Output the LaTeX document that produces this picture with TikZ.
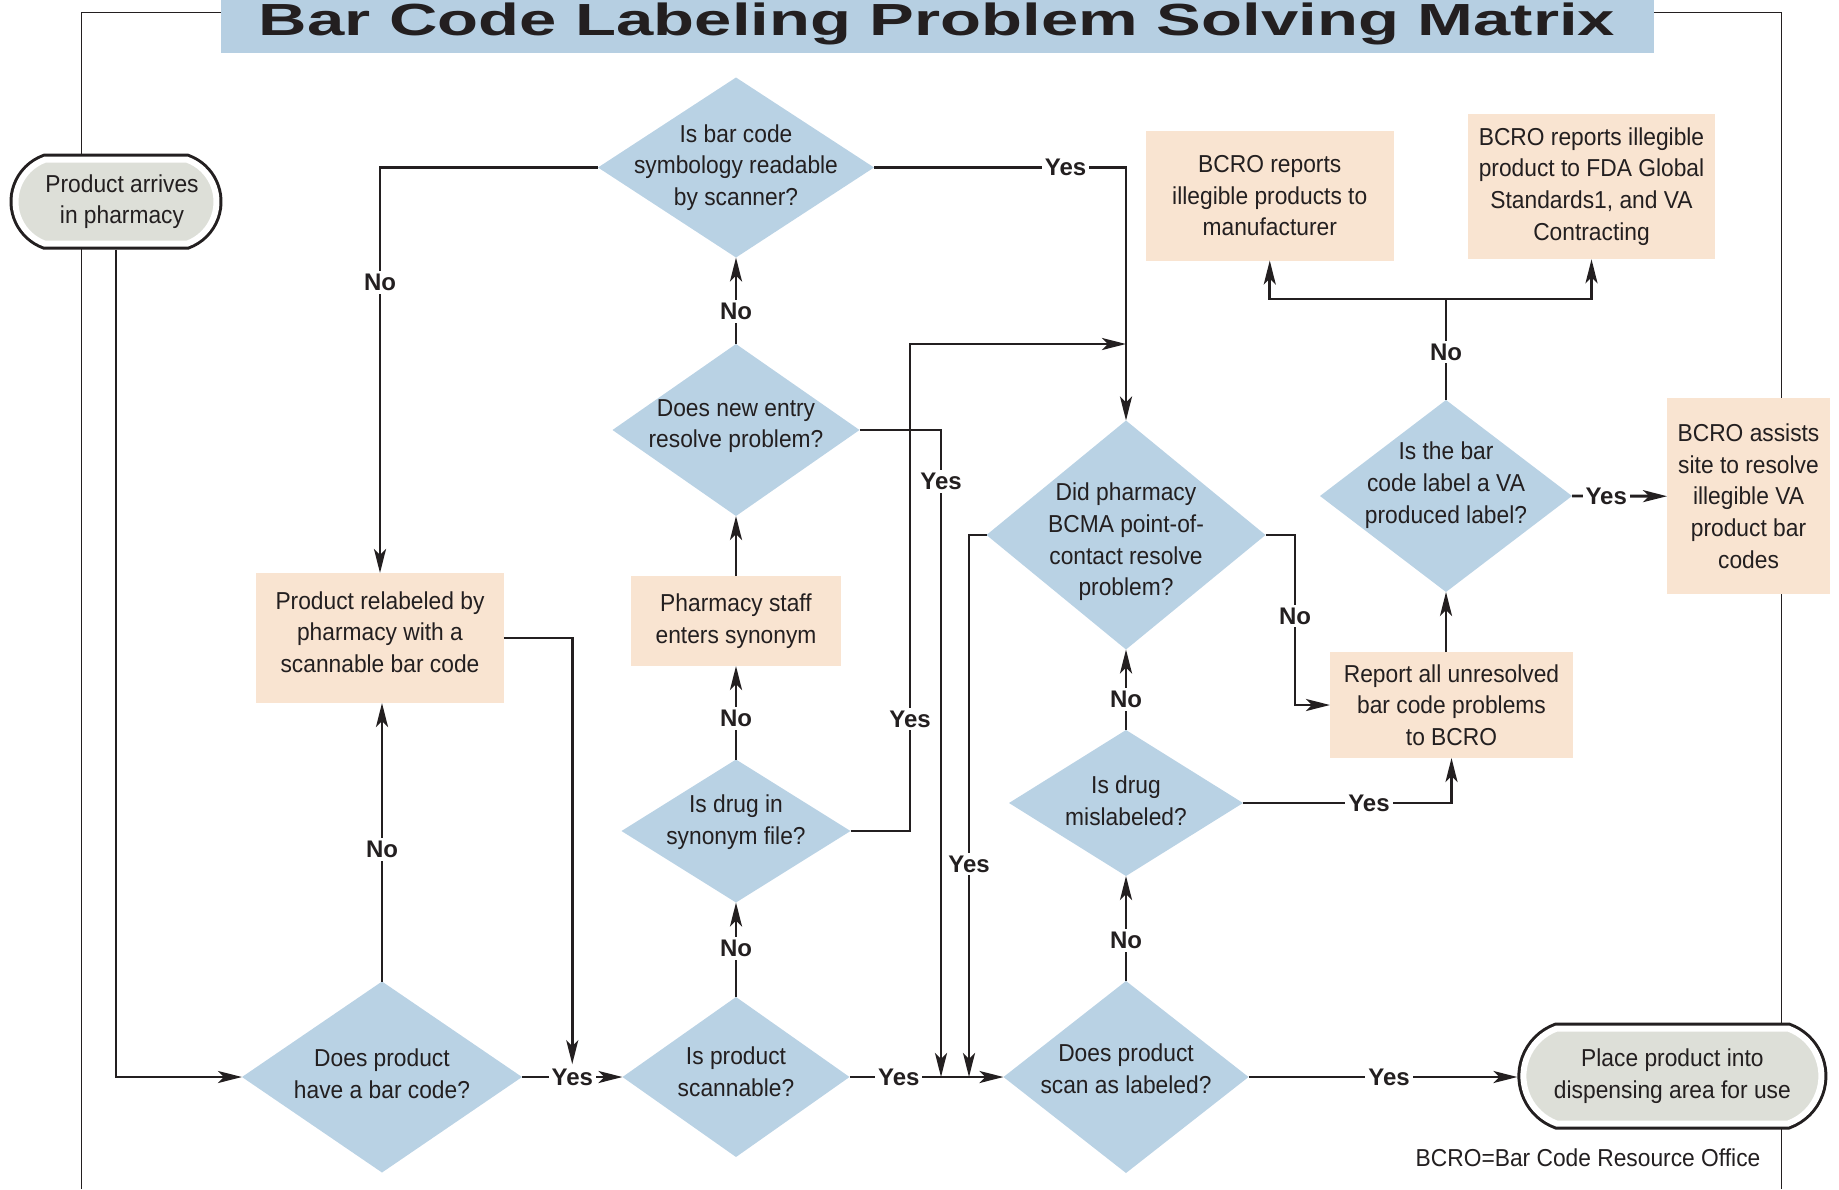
\documentclass[tikz,border=0pt]{standalone}
\usepackage{fontspec}
\setmainfont{Liberation Sans}
\newfontfamily\condfont[FakeStretch=0.93]{Liberation Sans}
\newfontfamily\titlefont[FakeStretch=1.49]{Liberation Sans}
\usetikzlibrary{shapes.geometric,shapes.misc,arrows.meta}
\definecolor{dblue}{HTML}{B9D2E4}
\definecolor{tblue}{HTML}{B6CFE2}
\definecolor{peach}{HTML}{F9E4D1}
\definecolor{tgrey}{HTML}{DDDFD8}
\definecolor{ink}{HTML}{231F20}
\begin{document}
\begin{tikzpicture}[x=1pt,y=-1pt,
  txt/.style={font=\condfont\fontsize{24.5}{31.7}\selectfont, align=center, text=ink, inner sep=0},
  dia/.style={diamond, fill=dblue, inner sep=0, outer sep=0},
  pbox/.style={rectangle, fill=peach, inner sep=0, outer sep=0},
  term/.style={rounded rectangle, rounded rectangle arc length=140, fill=tgrey, draw=white, line width=6pt, preaction={draw=ink, line width=12pt}, inner sep=0, outer sep=6pt},
  conn/.style={draw=ink, line width=2.9pt},
  arr/.style={conn, -{Stealth[length=24pt,width=12pt,inset=6pt]}},
  lab/.style={fill=white, font=\fontsize{24}{28}\selectfont\bfseries, text=ink, inner xsep=3pt, inner ysep=3pt},
  framel/.style={draw=ink, line width=1.5pt}]
\useasboundingbox (0,0) rectangle (1839,1189);

% frame
\draw[framel] (81.6,1189) -- (81.6,12.4) -- (220.5,12.4);
\draw[framel] (1653.5,12.4) -- (1781.7,12.4) -- (1781.7,1189);

% title
\node[fill=tblue, minimum width=1433pt, minimum height=53pt, inner sep=0] (titlebox) at (937,26.5) {};
\node[anchor=base, font=\titlefont\bfseries\fontsize{45}{50}\selectfont, text=ink, inner sep=0] (title) at (937,35) {Bar Code Labeling Problem Solving Matrix};

% terminals
\node[term, minimum width=201pt, minimum height=84pt, label={[txt, xshift=6pt]center:{Product arrives\\in pharmacy}}] (t1) at (116,201.7) {};
\node[term, minimum width=298pt, minimum height=95pt, label={[txt]center:{Place product into\\dispensing area for use}}] (t2) at (1672.4,1076) {};

% diamonds
\node[dia, minimum width=280pt, minimum height=191pt, label={[txt, yshift=3pt]center:{Does product\\have a bar code?}}] (d1) at (382,1077) {};
\node[dia, minimum width=227pt, minimum height=160pt, label={[txt, yshift=5pt]center:{Is product\\scannable?}}] (d2) at (736,1077) {};
\node[dia, minimum width=229pt, minimum height=143pt, label={[txt, yshift=9pt]center:{Is drug in\\synonym file?}}] (d3) at (736,831) {};
\node[dia, minimum width=247pt, minimum height=172pt, label={[txt, yshift=4pt]center:{Does new entry\\resolve problem?}}] (d4) at (736,430) {};
\node[dia, minimum width=276pt, minimum height=180pt, label={[txt]center:{Is bar code\\symbology readable\\by scanner?}}] (d5) at (736,167.5) {};
\node[dia, minimum width=245pt, minimum height=192pt, label={[txt, yshift=8pt]center:{Does product\\scan as labeled?}}] (d6) at (1126,1077) {};
\node[dia, minimum width=279pt, minimum height=229pt, label={[txt, yshift=-7pt]center:{Did pharmacy\\BCMA point-of-\\contact resolve\\problem?}}] (d7) at (1126,535) {};
\node[dia, minimum width=234pt, minimum height=146pt, label={[txt, yshift=2pt]center:{Is drug\\mislabeled?}}] (d8) at (1126,803) {};
\node[dia, minimum width=252pt, minimum height=192pt, label={[txt, yshift=11pt]center:{Is the bar\\code label a VA\\produced label?}}] (d9) at (1446,496) {};

% peach boxes
\node[pbox, minimum width=247.5pt, minimum height=130pt, label={[txt, yshift=6pt]center:{Product relabeled by\\pharmacy with a\\scannable bar code}}] (relab) at (380,638) {};
\node[pbox, minimum width=210.5pt, minimum height=90pt, label={[txt]center:{Pharmacy staff\\enters synonym}}] (staff) at (736,621) {};
\node[pbox, minimum width=247.5pt, minimum height=129.5pt, label={[txt]center:{BCRO reports\\illegible products to\\manufacturer}}] (boxa) at (1269.75,195.75) {};
\node[pbox, minimum width=247pt, minimum height=145.8pt, label={[txt]center:{BCRO reports illegible\\product to FDA Global\\Standards1, and VA\\Contracting}}] (boxb) at (1591.5,186.4) {};
\node[pbox, minimum width=243pt, minimum height=106pt, label={[txt]center:{Report all unresolved\\bar code problems\\to BCRO}}] (report) at (1451.5,705) {};
\node[pbox, minimum width=163pt, minimum height=196.5pt, label={[txt]center:{BCRO assists\\site to resolve\\illegible VA\\product bar\\codes}}] (bcro) at (1748.5,496.2) {};

% footer
\node[txt] (foot) at (1588,1158) {BCRO=Bar Code Resource Office};

% helper coordinates
\coordinate (v1) at (910,0);
\coordinate (v2) at (941,0);
\coordinate (v3) at (969,0);
\coordinate (v4) at (1295,0);
\coordinate (jn) at (0,299);

% connectors
\draw[arr] (t1.south) |- (d1.west);
\draw[arr] (d1.north) -- node[lab,pos=0.473]{No} (d1.north |- relab.south);
\draw[arr] (d5.west) -- (d5.west -| relab.north) -- node[lab,pos=0.284]{No} (relab.north);
\draw[arr] (d1.east) -- node[lab] (y1) {Yes} (d2.west);
\draw[arr] (relab.east) -| (y1.north);
\draw[arr] (d2.north) -- node[lab,pos=0.515]{No} (d3.south);
\draw[arr] (d3.north) -- node[lab,pos=0.436]{No} (staff.south);
\draw[arr] (staff.north) -- (d4.south);
\draw[arr] (d4.north) -- node[lab,pos=0.38]{No} (d5.south);
\draw[arr] (d2.east) -- node[lab,pos=0.32]{Yes} (d6.west);
\draw[arr] (d3.east) -- (d3.east -| v1) -- node[lab,pos=0.23]{Yes} (v1 |- d4.north) -- (d7.north |- d4.north);
\draw[arr] (d4.east) -- (d4.east -| v2) -- node[lab,pos=0.08]{Yes} (v2 |- d6.west);
\draw[arr] (d7.west) -- (d7.west -| v3) -- node[lab,pos=0.607]{Yes} (v3 |- d6.west);
\draw[arr] (d5.east) -- node[lab,pos=0.76]{Yes} (d5.east -| d7.north) -- (d7.north);
\draw[arr] (d7.east) -- (d7.east -| v4) -- node[lab,pos=0.476]{No} (v4 |- report.west) -- (report.west);
\draw[arr] (d8.north) -- node[lab,pos=0.375]{No} (d7.south);
\draw[arr] (d8.east) -- node[lab,pos=0.604]{Yes} (d8.east -| report.south) -- (report.south);
\draw[arr] (d9.south |- report.north) -- (d9.south);
\draw[arr] (d9.east) -- node[lab,pos=0.36]{Yes} (bcro.west);
\draw[conn] (d9.north) -- node[lab,pos=0.475]{No} (d9.north |- jn);
\draw[arr] (d9.north |- jn) -| (boxa.south);
\draw[arr] (d9.north |- jn) -| (boxb.south);
\draw[arr] (d6.north) -- node[lab,pos=0.387]{No} (d8.south);
\draw[arr] (d6.east) -- node[lab,pos=0.523]{Yes} (d6.east -| t2.west);
\end{tikzpicture}
\end{document}
